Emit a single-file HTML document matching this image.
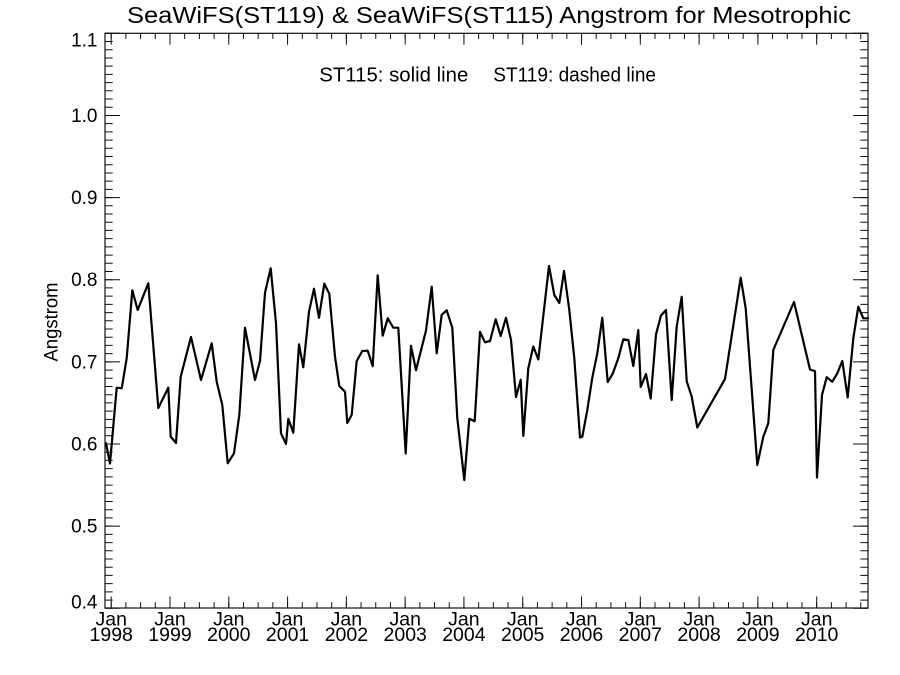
<!DOCTYPE html>
<html>
<head>
<meta charset="utf-8">
<style>
  html,body{margin:0;padding:0;background:#fff;}
  body{width:900px;height:675px;overflow:hidden;}
  svg{display:block;}
  text{font-family:"Liberation Sans",Arial,Helvetica,sans-serif;fill:#000;}
</style>
</head>
<body>
<svg width="900" height="675" viewBox="0 0 900 675" xmlns="http://www.w3.org/2000/svg">
  <rect x="0" y="0" width="900" height="675" fill="#fff"/>

  <!-- Title -->
  <text x="489" y="23" font-size="23" text-anchor="middle" textLength="724" lengthAdjust="spacingAndGlyphs">SeaWiFS(ST119) &amp; SeaWiFS(ST115)  Angstrom for Mesotrophic</text>

  <!-- Legend text -->
  <text x="319.3" y="81.7" font-size="20" textLength="149" lengthAdjust="spacingAndGlyphs">ST115: solid line</text>
  <text x="493.3" y="81.7" font-size="20" textLength="162.7" lengthAdjust="spacingAndGlyphs">ST119: dashed line</text>

  <!-- Y axis title -->
  <text transform="translate(57.5,322) rotate(-90)" font-size="19" text-anchor="middle" textLength="79" lengthAdjust="spacingAndGlyphs">Angstrom</text>

  <!-- Frame -->
  <rect x="105" y="33.3" width="763" height="574.7" fill="none" stroke="#111" stroke-width="1.2"/>

  <g stroke="#111" fill="none">
    <line x1="108.85" y1="32.8" x2="108.85" y2="609" stroke-width="7.7" stroke-dasharray="1 7.214"/>
    <line x1="112.5" y1="32.8" x2="112.5" y2="609" stroke-width="15" stroke-dasharray="1 81.14"/>
    <line x1="864.15" y1="32.8" x2="864.15" y2="609" stroke-width="7.7" stroke-dasharray="1 7.214"/>
    <line x1="860.5" y1="32.8" x2="860.5" y2="609" stroke-width="15" stroke-dasharray="1 81.14"/>

    <line x1="110.7" y1="605.15" x2="868" y2="605.15" stroke-width="5.7" stroke-dasharray="1 13.6975"/>
    <line x1="110.7" y1="602.25" x2="868" y2="602.25" stroke-width="11.5" stroke-dasharray="1 57.79"/>
    <line x1="110.7" y1="36.15" x2="868" y2="36.15" stroke-width="5.7" stroke-dasharray="1 13.6975"/>
    <line x1="110.7" y1="39.05" x2="868" y2="39.05" stroke-width="11.5" stroke-dasharray="1 57.79"/>
  </g>

  <!-- Y tick labels -->
  <g font-size="19" text-anchor="end">
    <text x="97.5" y="46.3">1.1</text>
    <text x="97.5" y="122">1.0</text>
    <text x="97.5" y="204.1">0.9</text>
    <text x="97.5" y="286.2">0.8</text>
    <text x="97.5" y="368.3">0.7</text>
    <text x="97.5" y="450.5">0.6</text>
    <text x="97.5" y="532.6">0.5</text>
    <text x="97.5" y="608.5">0.4</text>
  </g>

  <!-- X tick labels -->
  <g font-size="19.5" text-anchor="middle">
    <text x="111.2" y="625.3">Jan</text><text x="111.2" y="641">1998</text>
    <text x="170.0" y="625.3">Jan</text><text x="170.0" y="641">1999</text>
    <text x="228.8" y="625.3">Jan</text><text x="228.8" y="641">2000</text>
    <text x="287.6" y="625.3">Jan</text><text x="287.6" y="641">2001</text>
    <text x="346.4" y="625.3">Jan</text><text x="346.4" y="641">2002</text>
    <text x="405.2" y="625.3">Jan</text><text x="405.2" y="641">2003</text>
    <text x="463.9" y="625.3">Jan</text><text x="463.9" y="641">2004</text>
    <text x="522.7" y="625.3">Jan</text><text x="522.7" y="641">2005</text>
    <text x="581.5" y="625.3">Jan</text><text x="581.5" y="641">2006</text>
    <text x="640.3" y="625.3">Jan</text><text x="640.3" y="641">2007</text>
    <text x="699.1" y="625.3">Jan</text><text x="699.1" y="641">2008</text>
    <text x="757.9" y="625.3">Jan</text><text x="757.9" y="641">2009</text>
    <text x="816.7" y="625.3">Jan</text><text x="816.7" y="641">2010</text>
  </g>

  <!-- Data series (ST115 solid) -->
  <polyline fill="none" stroke="#000" stroke-width="2.2" stroke-linejoin="round" stroke-linecap="round" points="
    106,443.3 110,463.5 116.7,387.7 121.7,388.3 126.7,358.3 132.3,290.3 137.7,310 148.3,283.3 158.3,408 168.3,387.7 170.7,436.7 176,443 180.7,376.7 191,337 201,380 211.7,343.3 216.7,381.7 222.3,405 227.7,463.3 234,453.3 239.3,415 245,327.7 255,380
    260,361 265,292.7 270.7,268.3 276,323.3 281,433.3 286,444 288.3,418.8 293.3,432.8 299,344.3 303.3,367.3 309,311.7 314,288.7 319,317.8 324.3,283.7 329.3,293.8 335,356.7 339.3,386 345,391.7 347.3,423 351.7,414.8 356.7,361 362.3,351 367.7,350.7 372.7,366.2 377.7,275.3 382.7,335.7 387.7,318.3 393.3,327.7 398.3,327.7 405.7,453.5
    411,345.8 416,370.2 426,330.5 431.7,286.7 436.7,353.3 441.7,314.8 446.7,310.3 452.3,327.7 457.3,418.3 464.3,480 469.3,418.8 474.7,421.2 480,331.8 485,342.3 490,341 495.7,319.3 500.7,336 506,317.7 511,340 516,397 520.7,379.8 523.3,436 528.3,368.2 533.3,346.5 538.3,359.5 549,266 554.3,295 559.3,303
    564,271 569.3,310 574.3,358.3 580,437.5 582.3,436.7 587.3,410 592.3,377.7 597.3,353.3 602.3,317.7 607.7,382 612.7,373.8 618.3,358.3 623.3,339.3 628.3,340 633.3,366 638.3,330 640.7,387 646,374 650.7,398.5 656,334.3 661,315.5 666,310 671.7,400 676.7,326.5 681.7,296.7 686.7,381.2 691.7,396.7 697.3,427.5
    725,379 740.7,277.7 745.7,308.3 757.3,465 763.3,436.7 768.3,423.3 773.3,350 794,302 810,369.5 815,371.2 817,477.5 822,395 826.7,377.2 832.3,381.8 837.3,373.3 842.3,361 847.7,397.5 853.3,338.3 858.3,306.7 863.3,318.3 868,318.3"/>
</svg>
</body>
</html>
